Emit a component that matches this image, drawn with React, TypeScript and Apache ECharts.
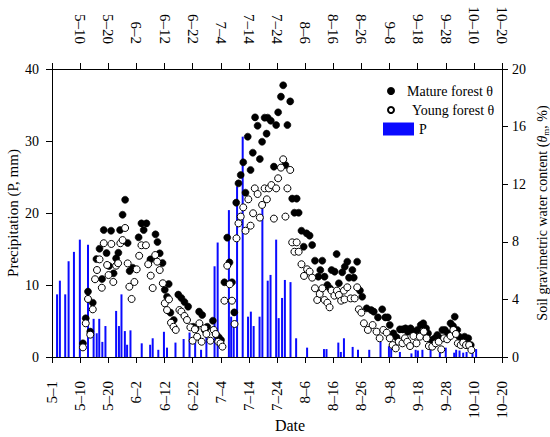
import React, { useEffect, useRef } from "react";
import * as echarts from "echarts";

const dateLabels = ["5–1", "5–10", "5–20", "6–2", "6–12", "6–22", "7–4", "7–14", "7–24", "8–6", "8–16", "8–26", "9–8", "9–18", "9–28", "10–10", "10–20"];

const precipitation = [
  [1.8, 8.7], [2.8, 10.6], [4.7, 8.7], [5.9, 13.3], [7.8, 14.6], [9.9, 16.3], [12.8, 15.6], [14.8, 5.3], [15.9, 3.3], [16.8, 5.3], [17.9, 2.1], [19.0, 4.3],
  [22.8, 6.4], [23.8, 4.3], [24.7, 8.7], [25.9, 3.6], [26.7, 1.7], [27.9, 3.7], [31.9, 1.9], [34.9, 1.7], [35.8, 2.6], [37.8, 1.0], [39.8, 3.5], [40.9, 1.3],
  [43.9, 2.0], [46.8, 2.5], [48.9, 3.4], [50.9, 2.1], [53.0, 1.0], [54.9, 2.8], [57.8, 12.6], [58.9, 15.9], [62.9, 20.4], [63.7, 5.6], [64.6, 4.2], [65.8, 23.7],
  [67.8, 30.6], [69.7, 5.6], [70.7, 6.3], [71.7, 4.3], [73.8, 5.6], [74.8, 20.6], [76.7, 10.6], [77.7, 11.4], [79.7, 16.3], [80.6, 5.4], [81.8, 8.2], [82.8, 10.7],
  [84.8, 10.4], [86.8, 2.6], [90.7, 1.3], [96.7, 1.1], [97.6, 1.1], [101.8, 2.0], [102.7, 0.7], [103.8, 2.6], [106.9, 1.4], [108.8, 1.0], [112.8, 1.0], [116.8, 2.1],
  [119.8, 1.5], [120.6, 1.2], [123.7, 0.7], [127.8, 0.5], [129.3, 1.0], [130.1, 0.9], [131.7, 1.0], [134.6, 1.1], [137.9, 1.1], [140.0, 1.3], [143.0, 0.6], [143.7, 1.0],
  [144.9, 0.9], [146.2, 0.6], [147.4, 0.7], [149.5, 1.0], [150.8, 1.1],
];

const matureForest = [
  [11.0, 0.95], [12.0, 2.69], [12.8, 4.54], [13.6, 1.76], [14.5, 3.77], [15.8, 6.8], [16.9, 7.52], [17.8, 5.42], [18.4, 8.82], [19.4, 7.22], [20.3, 6.32], [21.0, 8.77],
  [21.9, 5.81], [22.8, 6.85], [23.6, 7.24], [24.2, 8.82], [25.1, 9.88], [26.0, 10.92], [26.9, 7.92], [27.6, 5.97], [28.7, 6.2], [30.8, 8.31], [31.8, 9.28], [32.6, 8.82],
  [33.6, 9.28], [35.0, 6.78], [36.8, 8.52], [37.5, 7.99], [38.3, 7.2], [39.3, 6.53], [40.1, 4.67], [40.9, 4.19], [41.5, 5.07], [42.1, 3.08], [43.3, 2.57], [44.9, 4.33],
  [46.0, 4.1], [47.1, 3.82], [48.4, 3.5], [50.2, 2.1], [51.1, 1.97], [52.3, 3.15], [53.4, 2.92], [54.3, 1.88], [55.2, 2.1], [57.2, 2.52], [58.4, 1.55], [59.3, 1.37],
  [60.1, 1.18], [61.3, 5.19], [62.3, 8.29], [63.1, 6.57], [64.0, 5.19], [64.8, 3.1], [65.5, 10.72], [66.3, 12.06], [67.1, 12.64], [68.0, 13.52], [68.8, 11.41], [69.6, 15.3],
  [70.6, 12.99], [71.4, 14.19], [72.2, 16.64], [73.1, 16.06], [73.9, 13.75], [74.7, 14.95], [75.6, 16.62], [76.3, 15.51], [76.7, 16.62], [77.8, 16.41], [78.9, 13.22], [79.7, 16.11],
  [80.4, 16.99], [81.4, 18.08], [82.2, 18.87], [83.0, 13.33], [83.7, 16.11], [84.7, 17.75], [85.4, 11.0], [86.2, 10.02], [87.0, 11.0], [87.7, 10.02], [88.7, 8.77], [89.5, 7.66],
  [90.5, 8.59], [91.6, 8.43], [92.5, 7.78], [93.5, 6.69], [94.7, 5.58], [95.4, 6.04], [96.1, 6.69], [96.9, 5.58], [97.9, 5.0], [98.8, 4.77], [99.4, 6.04], [100.5, 5.93],
  [101.2, 7.15], [102.0, 5.12], [103.2, 5.88], [104.1, 6.27], [105.0, 6.62], [105.6, 5.51], [106.8, 6.04], [107.3, 5.51], [108.5, 6.62], [109.5, 4.61], [110.3, 4.19], [111.9, 3.38],
  [113.5, 3.26], [114.4, 3.15], [115.9, 2.75], [117.4, 3.31], [118.5, 2.75], [119.4, 2.75], [120.1, 2.22], [121.4, 1.64], [122.5, 1.37], [123.7, 1.92], [124.7, 1.92], [125.7, 1.99],
  [126.5, 1.76], [127.5, 1.99], [128.7, 1.76], [129.9, 1.88], [131.1, 2.22], [132.0, 2.34], [133.0, 1.99], [133.7, 1.64], [134.9, 1.18], [136.1, 1.3], [137.0, 1.53], [137.9, 1.3],
  [138.8, 1.88], [139.7, 1.88], [140.8, 1.64], [141.7, 2.34], [142.6, 2.15], [143.2, 2.8], [144.1, 1.88], [144.8, 1.41], [145.8, 1.13], [146.7, 1.41], [148.0, 1.3], [148.9, 0.83],
];

const youngForest = [
  [11.0, 0.67], [12.0, 2.34], [12.8, 4.03], [13.6, 1.55], [14.5, 3.31], [15.3, 5.4], [16.0, 6.04], [16.9, 6.78], [17.7, 4.81], [18.4, 7.9], [19.6, 6.39], [20.1, 5.69],
  [21.1, 7.85], [21.8, 5.21], [22.8, 6.34], [23.5, 6.51], [24.3, 7.9], [25.1, 8.12], [26.0, 8.96], [26.9, 6.5], [27.5, 4.88], [28.3, 4.03], [29.3, 5.21], [30.1, 6.09],
  [31.0, 7.03], [31.8, 7.76], [33.4, 7.76], [34.2, 6.44], [35.1, 5.65], [35.8, 4.79], [36.7, 7.08], [37.4, 6.62], [38.3, 6.04], [39.4, 5.12], [40.1, 3.73], [40.9, 3.26],
  [41.6, 4.0], [42.3, 2.38], [43.2, 2.1], [44.0, 1.88], [45.3, 3.26], [46.0, 3.15], [47.1, 2.85], [48.0, 2.57], [49.2, 2.06], [50.0, 1.13], [50.8, 1.92], [51.6, 1.41],
  [52.4, 2.34], [53.2, 1.06], [54.2, 1.99], [54.9, 1.6], [56.3, 1.13], [57.5, 1.88], [58.2, 1.6], [59.1, 1.06], [59.9, 0.95], [60.6, 0.72], [61.3, 3.91], [62.3, 6.34],
  [63.2, 5.05], [64.0, 3.91], [64.9, 2.29], [65.6, 8.24], [66.3, 9.28], [67.1, 9.75], [68.0, 10.39], [68.8, 8.77], [69.8, 10.95], [70.6, 9.12], [71.5, 9.98], [72.1, 11.71],
  [73.1, 11.32], [73.9, 9.68], [74.7, 10.56], [75.6, 11.71], [76.4, 10.95], [77.1, 11.71], [78.0, 11.94], [78.9, 9.61], [79.7, 11.71], [80.4, 12.41], [81.4, 13.15], [82.2, 13.73],
  [83.0, 9.75], [83.7, 11.71], [84.7, 12.99], [85.4, 7.96], [86.2, 7.31], [87.0, 7.96], [87.7, 7.31], [88.7, 6.44], [89.6, 5.63], [90.7, 6.09], [91.6, 5.93], [92.5, 5.51],
  [93.5, 4.77], [94.3, 3.96], [95.2, 4.38], [96.1, 4.77], [96.9, 3.96], [97.9, 3.77], [98.7, 3.45], [99.4, 4.61], [100.4, 4.26], [101.3, 4.61], [102.0, 4.31], [102.8, 3.91],
  [103.8, 4.61], [104.0, 4.0], [105.0, 4.84], [106.2, 4.07], [107.6, 4.07], [108.5, 4.84], [109.1, 3.31], [110.0, 3.08], [110.9, 2.34], [112.3, 1.88], [114.0, 2.22], [115.4, 1.76],
  [116.5, 1.3], [117.8, 1.88], [119.0, 1.69], [120.1, 1.3], [121.1, 0.83], [122.2, 0.6], [123.3, 1.06], [124.6, 0.95], [125.5, 1.3], [126.3, 1.06], [127.3, 0.76], [128.5, 1.46],
  [129.6, 0.95], [130.8, 1.41], [132.2, 1.76], [133.2, 1.3], [134.0, 0.76], [135.2, 0.72], [136.4, 0.95], [137.5, 1.06], [138.4, 0.53], [139.4, 1.3], [140.5, 1.23], [141.7, 1.46],
  [142.7, 1.88], [143.6, 1.6], [144.3, 0.95], [145.3, 0.83], [146.2, 1.0], [147.2, 0.83], [148.3, 0.83], [149.1, 0.49],
];

const FONT = "'Liberation Serif', 'Times New Roman', serif";
const BLUE = "#0a0aff";

export default function App() {
  const ref = useRef<HTMLDivElement>(null);
  useEffect(() => {
    document.body.style.margin = "0";
    const chart = echarts.init(ref.current!, null, { renderer: "svg" });
    const xBase = (position: "top" | "bottom") => ({
      type: "value",
      position,
      min: 0,
      max: 160,
      interval: 10,
      nameMoveOverlap: false,
      axisLine: { show: true, onZero: false, lineStyle: { color: "#000", width: 1 } },
      axisTick: { show: true, inside: false, length: 6, lineStyle: { color: "#000" } },
      splitLine: { show: false },
      axisLabel: {
        rotate: 90,
        margin: position === "top" ? 25 : 24,
        fontSize: 15,
        fontFamily: FONT,
        color: "#000",
        formatter: (v: number) => {
          const i = Math.round(v / 10);
          if (position === "top" && i === 0) return "";
          return dateLabels[i] ?? "";
        },
      },
    });
    const yAxisBase = {
      type: "value",
      nameMoveOverlap: false,
      axisLine: { show: true, onZero: false, lineStyle: { color: "#000", width: 1 } },
      axisTick: { show: true, inside: false, length: 6, lineStyle: { color: "#000" } },
      splitLine: { show: false },
    };
    chart.setOption({
      animation: false,
      backgroundColor: "#fff",
      textStyle: { fontFamily: FONT, color: "#000" },
      grid: { left: 52, right: 48, top: 69, bottom: 80, containLabel: false, outerBoundsMode: "none" },
      legend: [
        {
          orient: "vertical",
          left: 382,
          top: 79,
          itemWidth: 6,
          itemHeight: 6,
          itemGap: 5,
          textStyle: { fontSize: 14, fontFamily: FONT, color: "#000" },
          data: [
            { name: "Mature forest θ", textStyle: { padding: [0, 0, 0, 8] } },
            { name: "Young forest θ", textStyle: { padding: [0, 0, 0, 13] } },
          ],
        },
        {
          left: 378,
          top: 117,
          itemWidth: 31,
          itemHeight: 13,
          icon: "rect",
          textStyle: { fontSize: 14, fontFamily: FONT, color: "#000" },
          data: ["P"],
        },
      ],
      xAxis: [
        {
          ...xBase("bottom"),
          name: "Date",
          nameLocation: "middle",
          nameGap: 60,
          nameTextStyle: { fontSize: 16, fontFamily: FONT, color: "#000", padding: [0, 0, 0, 26] },
        },
        xBase("top"),
      ],
      yAxis: [
        {
          ...yAxisBase,
          min: 0,
          max: 40,
          interval: 10,
          position: "left",
          name: "Precipitation (P, mm)",
          nameLocation: "middle",
          nameRotate: 90,
          nameGap: 32,
          nameTextStyle: { fontSize: 15, fontFamily: FONT, color: "#000" },
          axisLabel: { margin: 13, fontSize: 14, fontFamily: FONT, color: "#000" },
        },
        {
          ...yAxisBase,
          min: 0,
          max: 20,
          interval: 4,
          position: "right",
          name: "Soil gravimetric water content ({it|θ}{sub|m}, %)",
          nameLocation: "middle",
          nameRotate: 90,
          nameGap: 33,
          nameTextStyle: {
            fontSize: 14,
            fontFamily: FONT,
            color: "#000",
            rich: {
              it: { fontSize: 14, fontFamily: FONT, fontStyle: "italic", color: "#000" },
              sub: { fontSize: 9, fontFamily: FONT, color: "#000", verticalAlign: "bottom", padding: [6, 0, 0, 0] },
            },
          },
          axisLabel: { margin: 10, fontSize: 14, fontFamily: FONT, color: "#000" },
        },
      ],
      series: [
        {
          name: "P",
          type: "bar",
          xAxisIndex: 0,
          yAxisIndex: 0,
          barWidth: 2,
          itemStyle: { color: BLUE },
          data: precipitation,
        },
        {
          name: "Mature forest θ",
          type: "scatter",
          xAxisIndex: 0,
          yAxisIndex: 1,
          symbol: "circle",
          symbolSize: 7,
          itemStyle: { color: "#000", borderColor: "#000", borderWidth: 0.6, opacity: 1 },
          data: matureForest,
        },
        {
          name: "Young forest θ",
          type: "scatter",
          xAxisIndex: 0,
          yAxisIndex: 1,
          symbol: "circle",
          symbolSize: 7,
          itemStyle: { color: "#fff", borderColor: "#000", borderWidth: 1, opacity: 1 },
          data: youngForest,
        },
      ],
    });
    return () => chart.dispose();
  }, []);
  return <div ref={ref} style={{ width: 550, height: 437 }} />;
}
